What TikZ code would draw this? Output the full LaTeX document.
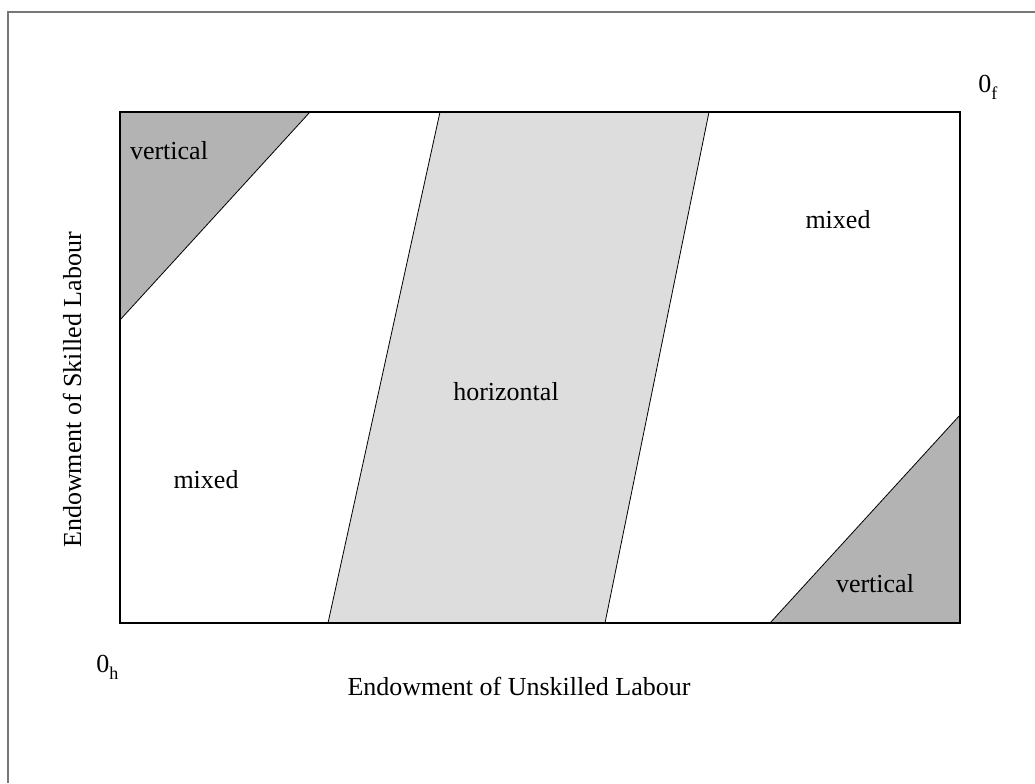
\documentclass[tikz,border=0pt]{standalone}
\usepackage{fontspec}
\setmainfont{Liberation Serif}
\definecolor{darkfill}{HTML}{B3B3B3}
\definecolor{lightfill}{HTML}{DDDDDD}
\definecolor{framegray}{HTML}{777777}
\newcommand{\subtxt}[2]{#1\raisebox{-0.3em}{\fontsize{13.5}{14}\selectfont #2}}
\begin{document}
\begin{tikzpicture}[x=0.75pt,y=-0.75pt,
  lbl/.style={font=\fontsize{19.5}{23}\selectfont, inner sep=0pt, anchor=base},
  edge/.style={draw=black, line width=0.6pt}]
\useasboundingbox (0,0) rectangle (1035,783);
\fill[white] (0,0) rectangle (1035,783);
% outer frame (top and left)
\draw[framegray, line width=1.5pt] (8,783) -- (8,12) -- (1035,12);
% coordinates
\coordinate (tl) at (120,112);
\coordinate (tr) at (960,112);
\coordinate (br) at (960,623);
\coordinate (bl) at (120,623);
% regions
\fill[darkfill] (tl) -- (310,112) -- (120,320) -- cycle;
\draw[edge] (310,112) -- (120,320);
\fill[lightfill] (440,112) -- (709,112) -- (605,623) -- (328,623) -- cycle;
\draw[edge] (440,112) -- (328,623);
\draw[edge] (709,112) -- (605,623);
\fill[darkfill] (960,415) -- (br) -- (770,623) -- cycle;
\draw[edge] (960,415) -- (770,623);
% box
\draw[black, line width=1.1pt] (tl) rectangle (br);
% labels
\node[lbl] (v1) at (169,159) {vertical};
\node[lbl] (m1) at (838,228) {mixed};
\node[lbl] (hz) at (506,400) {horizontal};
\node[lbl] (m2) at (206,488) {mixed};
\node[lbl] (v2) at (875,592) {vertical};
\node[lbl, anchor=base west] (of) at (978,92) {\subtxt{0}{f}};
\node[lbl, anchor=base west] (oh) at (96,672) {\subtxt{0}{h}};
\node[lbl] (xl) at (519,695) {Endowment of Unskilled Labour};
\node[lbl, rotate=90] (yl) at (81,390) {Endowment of Skilled Labour};
\end{tikzpicture}
\end{document}
